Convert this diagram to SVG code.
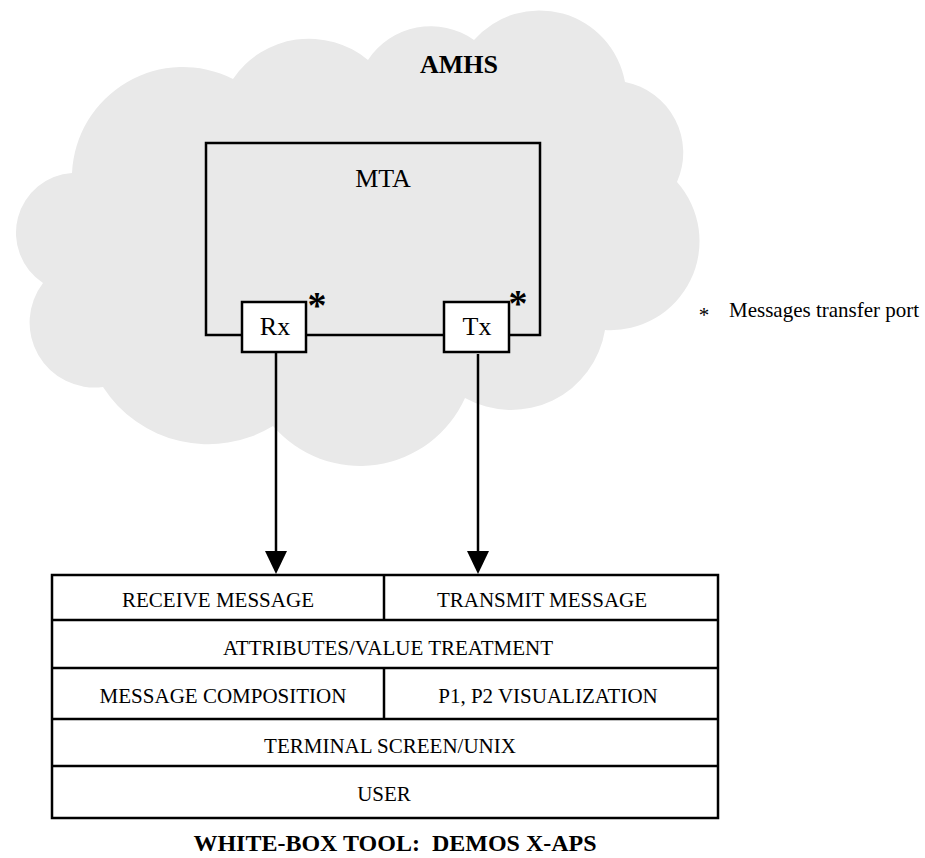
<svg xmlns="http://www.w3.org/2000/svg" width="925" height="858" viewBox="0 0 925 858">
<style>
  text { font-family: "Liberation Serif", "Times New Roman", serif; fill: #000; }
  .lbl { font-size: 26px; text-anchor: middle; }
  .cell { font-size: 21px; text-anchor: middle; }
  .ln { fill: none; stroke: #000; stroke-width: 2.5; }
  .port { fill: #fff; stroke: #000; stroke-width: 2.5; }
  .star { font-size: 38px; font-weight: bold; text-anchor: middle; }
</style>
<defs>
  <marker id="arr" markerUnits="userSpaceOnUse" viewBox="0 0 23 22" refX="0" refY="11" markerWidth="23" markerHeight="22" orient="auto">
    <path d="M0,0 L23,11 L0,22 Z" fill="#000"/>
  </marker>
</defs>
<rect width="925" height="858" fill="#fff"/>

<g id="cloud">
  <path d="M43,283 A60,60 0 0 1 72,173 A111,111 0 0 1 233,79 A92,92 0 0 1 368,60 A75,75 0 0 1 474,40 A87,87 0 0 1 625,82 A72,72 0 0 1 677,182 A89,89 0 0 1 605,330 A95,95 0 0 1 465,398 A115,115 0 0 1 273,426 A125,125 0 0 1 103,387 A65,65 0 0 1 43,283 Z" fill="#e9e9e9"/>
  <text x="459" y="73" class="lbl" font-weight="bold">AMHS</text>
</g>

<g id="mta">
  <rect x="206" y="143" width="334" height="192" class="ln"/>
  <text x="383" y="187" class="lbl">MTA</text>
</g>

<g id="rx">
  <rect x="242" y="302" width="64" height="50" class="port"/>
  <text x="275" y="335" class="lbl">Rx</text>
  <text x="317" y="318" class="star">*</text>
</g>

<g id="tx">
  <rect x="444" y="302" width="65" height="50" class="port"/>
  <text x="477" y="335" class="lbl">Tx</text>
  <text x="518" y="316" class="star">*</text>
</g>

<g id="legend">
  <text x="704" y="322" font-size="21" text-anchor="middle">*</text>
  <text x="729" y="317" font-size="21">Messages transfer port</text>
</g>

<g id="connectors">
  <line x1="276" y1="352" x2="276" y2="551" class="ln" marker-end="url(#arr)"/>
  <line x1="478" y1="354" x2="478" y2="551" class="ln" marker-end="url(#arr)"/>
</g>

<g id="stack">
  <rect x="52" y="575" width="666" height="243" class="ln"/>
  <line x1="52" y1="620" x2="718" y2="620" class="ln"/>
  <line x1="52" y1="668" x2="718" y2="668" class="ln"/>
  <line x1="52" y1="719" x2="718" y2="719" class="ln"/>
  <line x1="52" y1="766" x2="718" y2="766" class="ln"/>
  <line x1="384" y1="575" x2="384" y2="620" class="ln"/>
  <line x1="384" y1="668" x2="384" y2="719" class="ln"/>
</g>

<g id="receive"><text x="218" y="607" class="cell">RECEIVE MESSAGE</text></g>
<g id="transmit"><text x="542" y="607" class="cell">TRANSMIT MESSAGE</text></g>
<g id="attributes"><text x="388" y="655" class="cell">ATTRIBUTES/VALUE TREATMENT</text></g>
<g id="composition"><text x="223" y="703" class="cell">MESSAGE COMPOSITION</text></g>
<g id="visualization"><text x="548" y="703" class="cell">P1, P2 VISUALIZATION</text></g>
<g id="terminal"><text x="390" y="753" class="cell">TERMINAL SCREEN/UNIX</text></g>
<g id="user"><text x="384" y="801" class="cell">USER</text></g>

<g id="caption">
  <text x="395" y="851" font-size="24" font-weight="bold" text-anchor="middle">WHITE-BOX TOOL:&#160; DEMOS X-APS</text>
</g>
</svg>
